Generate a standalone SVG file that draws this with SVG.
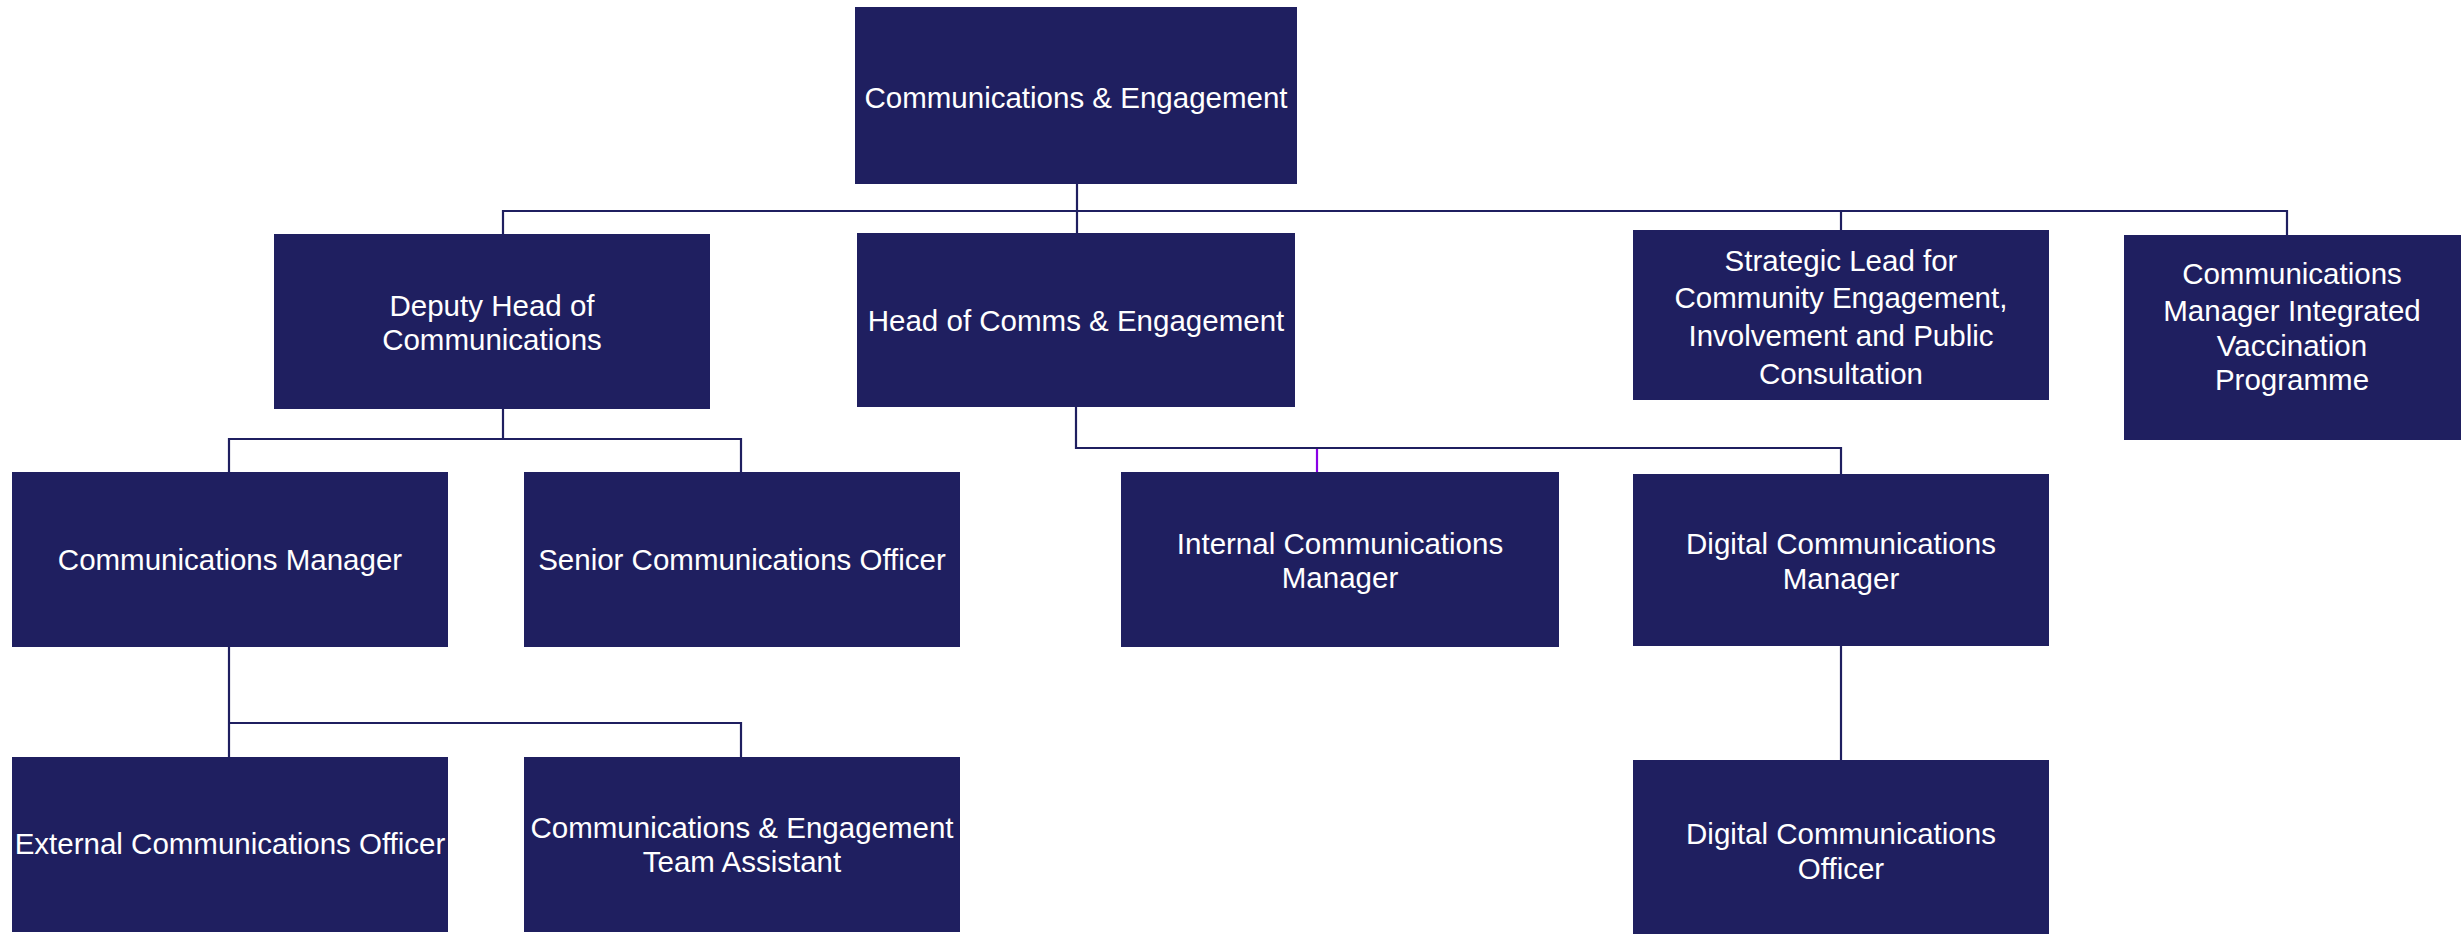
<svg xmlns="http://www.w3.org/2000/svg" width="2461" height="934" viewBox="0 0 2461 934">
<style>
.box{fill:#1F1F60;}
.lbl{fill:#FFFFFF;font-family:"Liberation Sans",Arial,sans-serif;font-size:29.5px;text-anchor:middle;}
.ln{stroke:#1F1F60;stroke-width:2.2;fill:none;}
.ln2{stroke:#8A00E6;stroke-width:2.2;fill:none;}
</style>
<rect width="2461" height="934" fill="#FFFFFF"/>
<g id="connectors">
<path class="ln" d="M1077,184 V233"/>
<path class="ln" d="M503,234 V211 H2287 V235"/>
<path class="ln" d="M1841,211 V230"/>
<path class="ln" d="M229,472 V439 H741 V472"/>
<path class="ln" d="M503,409 V439"/>
<path class="ln" d="M1076,407 V448 H1841 V474"/>
<path class="ln2" d="M1317,449 V472"/>
<path class="ln" d="M229,647 V757"/>
<path class="ln" d="M229,723 H741 V757"/>
<path class="ln" d="M1841,646 V760"/>
</g>
<g id="n-ce">
<rect class="box" x="855" y="7" width="442" height="177"/>
<text class="lbl" x="1076" y="108">Communications &amp; Engagement</text>
</g>
<g id="n-deputy">
<rect class="box" x="274" y="234" width="436" height="175"/>
<text class="lbl" x="492" y="316">Deputy Head of</text>
<text class="lbl" x="492" y="350">Communications</text>
</g>
<g id="n-head">
<rect class="box" x="857" y="233" width="438" height="174"/>
<text class="lbl" x="1076" y="331">Head of Comms &amp; Engagement</text>
</g>
<g id="n-strategic">
<rect class="box" x="1633" y="230" width="416" height="170"/>
<text class="lbl" x="1841" y="271">Strategic Lead for</text>
<text class="lbl" x="1841" y="308">Community Engagement,</text>
<text class="lbl" x="1841" y="346">Involvement and Public</text>
<text class="lbl" x="1841" y="384">Consultation</text>
</g>
<g id="n-vacc">
<rect class="box" x="2124" y="235" width="337" height="205"/>
<text class="lbl" x="2292" y="284">Communications</text>
<text class="lbl" x="2292" y="321">Manager Integrated</text>
<text class="lbl" x="2292" y="356">Vaccination</text>
<text class="lbl" x="2292" y="390">Programme</text>
</g>
<g id="n-commsmgr">
<rect class="box" x="12" y="472" width="436" height="175"/>
<text class="lbl" x="230" y="570">Communications Manager</text>
</g>
<g id="n-senior">
<rect class="box" x="524" y="472" width="436" height="175"/>
<text class="lbl" x="742" y="570">Senior Communications Officer</text>
</g>
<g id="n-internal">
<rect class="box" x="1121" y="472" width="438" height="175"/>
<text class="lbl" x="1340" y="554">Internal Communications</text>
<text class="lbl" x="1340" y="588">Manager</text>
</g>
<g id="n-digitalmgr">
<rect class="box" x="1633" y="474" width="416" height="172"/>
<text class="lbl" x="1841" y="554">Digital Communications</text>
<text class="lbl" x="1841" y="589">Manager</text>
</g>
<g id="n-external">
<rect class="box" x="12" y="757" width="436" height="175"/>
<text class="lbl" x="230" y="854">External Communications Officer</text>
</g>
<g id="n-teamasst">
<rect class="box" x="524" y="757" width="436" height="175"/>
<text class="lbl" x="742" y="838">Communications &amp; Engagement</text>
<text class="lbl" x="742" y="872">Team Assistant</text>
</g>
<g id="n-digitalofficer">
<rect class="box" x="1633" y="760" width="416" height="174"/>
<text class="lbl" x="1841" y="844">Digital Communications</text>
<text class="lbl" x="1841" y="879">Officer</text>
</g>
</svg>
